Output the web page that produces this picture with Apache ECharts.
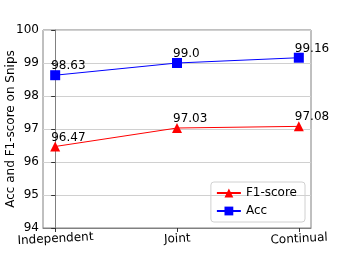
<!DOCTYPE html>
<html><head><meta charset="utf-8">
<script src="https://cdn.jsdelivr.net/npm/echarts@6/dist/echarts.min.js"></script>
<style>html,body{margin:0;padding:0;background:#fff}#c{width:346px;height:257px}</style>
</head><body><div id="c"></div>
<script>
const categories = ['Independent', 'Joint', 'Continual'];
const f1Values = [96.47, 97.03, 97.08];
const accValues = [98.63, 99.0, 99.16];
const accLabels = ['98.63', '99.0', '99.16'];
const f1Labels = ['96.47', '97.03', '97.08'];
const yTicks = [94, 95, 96, 97, 98, 99, 100];

const font = 'DejaVu Sans';
const chart = echarts.init(document.getElementById('c'), null, {renderer: 'canvas'});
function mk(vals, labels) { return vals.map((v, i) => ({value: [i, v], labelText: labels[i]})); }
chart.setOption({
  animation: false,
  grid: {left: 43, right: 35, top: 30, bottom: 29, show: true, borderColor: '#808080', borderWidth: 1,
    outerBoundsMode: 'none', containLabel: false},
  xAxis: {
    type: 'value', min: -0.1, max: 2.1,
    splitLine: {show: false},
    axisLine: {show: true, lineStyle: {color: '#808080'}},
    axisTick: {show: true, customValues: [0, 1, 2], length: 4, lineStyle: {color: '#333'}},
    axisLabel: {customValues: [0, 1, 2], formatter: v => categories[Math.round(v)], rotate: 3,
      align: 'center', verticalAlign: 'top',
      color: '#000', fontFamily: font, fontSize: 12, margin: 5}
  },
  yAxis: {
    type: 'value', min: 94, max: 100, interval: 1,
    name: 'Acc and F1-score on Snips', nameLocation: 'middle', nameGap: 26, nameMoveOverlap: false,
    nameTextStyle: {color: '#000', fontFamily: font, fontSize: 12},
    axisLine: {show: true, lineStyle: {color: '#808080'}},
    axisTick: {show: true, length: 4, lineStyle: {color: '#333'}},
    splitLine: {show: true, lineStyle: {color: '#d0d0d0', width: 1}},
    axisLabel: {color: '#000', fontFamily: font, fontSize: 12, margin: 4,
      formatter: v => yTicks.includes(v) ? String(v) : ''}
  },
  legend: {
    orient: 'vertical', right: 41, bottom: 35,
    itemWidth: 24, itemHeight: 11, itemGap: 6,
    padding: [5, 8, 5, 5],
    borderColor: '#d0d0d0', borderWidth: 1, borderRadius: 3,
    textStyle: {color: '#000', fontFamily: font, fontSize: 12},
    data: ['F1-score', 'Acc']
  },
  series: [
    {name: 'F1-score', type: 'line', data: mk(f1Values, f1Labels), symbol: 'triangle', symbolSize: 10,
      itemStyle: {color: '#ff0000'}, lineStyle: {color: '#ff0000', width: 1},
      label: {show: true, position: 'top', align: 'left', offset: [-4, 3], distance: 1,
        formatter: p => p.data.labelText, color: '#000', fontFamily: font, fontSize: 12}},
    {name: 'Acc', type: 'line', data: mk(accValues, accLabels), symbol: 'rect', symbolSize: 10,
      itemStyle: {color: '#0000ff'}, lineStyle: {color: '#0000ff', width: 1},
      label: {show: true, position: 'top', align: 'left', offset: [-4, 3], distance: 1,
        formatter: p => p.data.labelText, color: '#000', fontFamily: font, fontSize: 12}}
  ]
});
</script></body></html>
